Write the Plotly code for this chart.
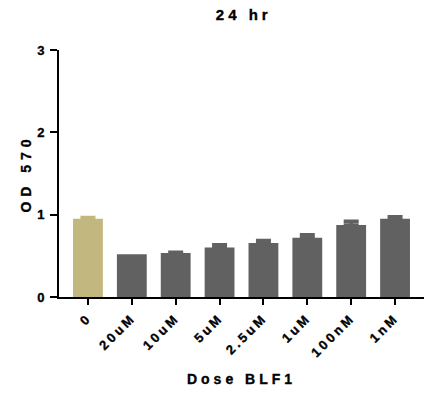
import plotly.graph_objects as go

# OD 570 readings after 24 hr of BLF1 treatment
doses = ["0", "20uM", "10uM", "5uM", "2.5uM", "1uM", "100nM", "1nM"]
od570 = [0.95, 0.52, 0.535, 0.60, 0.655, 0.72, 0.875, 0.95]
od570_err = [0.015, 0.0, 0.01, 0.035, 0.03, 0.035, 0.045, 0.025]

bar_colors = ["#C2B77F"] + ["#616161"] * (len(doses) - 1)

FONT = "Liberation Sans, Arial, sans-serif"

fig = go.Figure()
# one trace per bar so each error bar takes its bar's colour
for i, d in enumerate(doses):
    fig.add_trace(go.Bar(
        x=[i], y=[od570[i]],
        width=0.68,
        marker=dict(color=bar_colors[i], line=dict(width=0)),
        error_y=dict(type="data", array=[od570_err[i]], arrayminus=[0],
                     symmetric=False, color=bar_colors[i],
                     thickness=3.5, width=7.5,
                     visible=od570_err[i] > 0),
        showlegend=False,
    ))

fig.update_layout(
    width=424, height=395,
    margin=dict(l=59, r=0, t=50, b=98),
    paper_bgcolor="white", plot_bgcolor="white",
    font=dict(family=FONT, color="black", size=12, weight="bold"),
    title=dict(text="24 hr", x=0.575, xanchor="center", y=0.962, yanchor="middle",
               font=dict(size=15, weight="bold", family=FONT)),
    xaxis=dict(
        range=[-0.66, 7.66],
        tickmode="array", tickvals=list(range(len(doses))), ticktext=doses,
        tickangle=-45,
        ticks="outside", ticklen=6, tickwidth=2, tickcolor="black",
        showline=True, linewidth=2, linecolor="black",
        showgrid=False, zeroline=False,
        tickfont=dict(size=13, weight="bold", family=FONT),
        title=dict(text="Dose BLF1", standoff=26,
                   font=dict(size=14, weight="bold", family=FONT)),
    ),
    yaxis=dict(
        range=[0, 3],
        tickvals=[0, 1, 2, 3],
        ticks="outside", ticklen=7, tickwidth=2, tickcolor="black",
        showline=True, linewidth=2, linecolor="black",
        showgrid=False, zeroline=False,
        ticklabelstandoff=3,
        tickfont=dict(size=13, weight="bold", family=FONT),
        title=dict(text="OD 570", standoff=2,
                   font=dict(size=14, weight="bold", family=FONT)),
    ),
)

# widen letter spacing and thicken the strokes of the labels
spacing_js = """
var gd = document.getElementById('{plot_id}');
var gaps = {'.gtitle': '4px', '.xtitle': '4px', '.ytitle': '5px',
            '.xtick text': '3px', '.ytick text': '0px'};
function spread(){
  Object.keys(gaps).forEach(function(sel){
    gd.querySelectorAll(sel).forEach(function(t){
      t.style.letterSpacing = gaps[sel];
      t.style.stroke = 'black';
      t.style.strokeWidth = '0.35px';
    });
  });
}
spread();
gd.on('plotly_afterplot', spread);
"""

fig.write_html("out.html", post_script=spacing_js)
